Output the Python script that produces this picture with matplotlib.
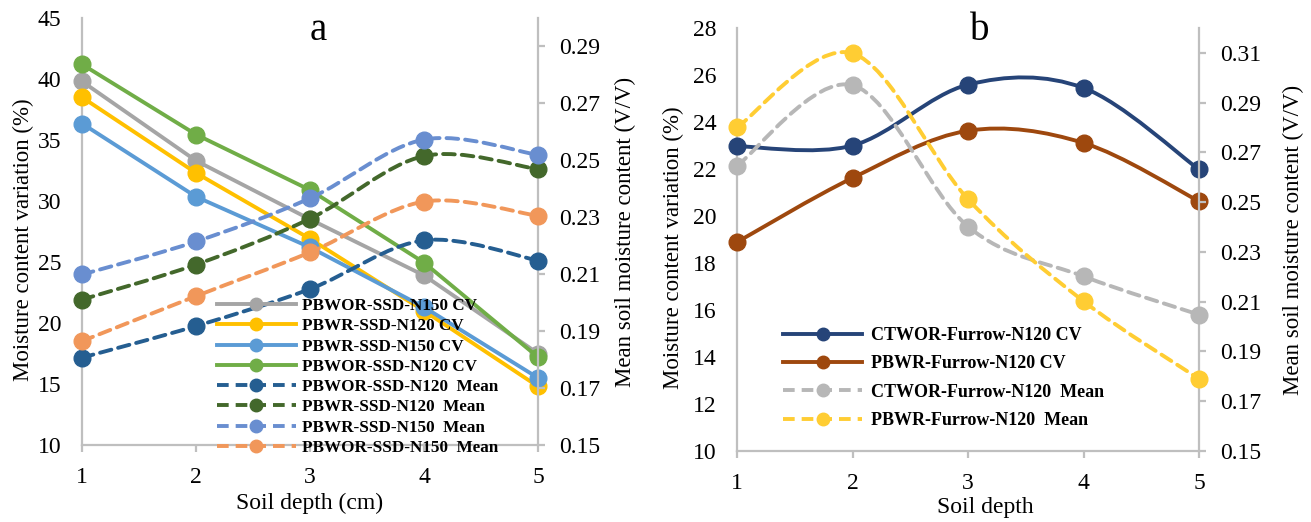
import matplotlib
matplotlib.use('Agg')
import matplotlib.pyplot as plt
from matplotlib.path import Path
from matplotlib.patches import PathPatch
from matplotlib.lines import Line2D

plt.rcParams['font.family'] = ['Liberation Serif', 'DejaVu Serif']

depth = [1, 2, 3, 4, 5]

# panel a: CV (left axis)
a_cv_names = ['PBWOR-SSD-N150 CV', 'PBWR-SSD-N120 CV', 'PBWR-SSD-N150 CV', 'PBWOR-SSD-N120 CV']
a_cv_vals = [
    [39.8, 33.3, 28.5, 23.9, 17.5],
    [38.5, 32.3, 26.9, 21.0, 14.8],
    [36.35, 30.35, 26.2, 21.3, 15.5],
    [41.2, 35.45, 30.9, 24.95, 17.2],
]
a_cv_colors = ['#A5A5A5', '#FFC000', '#5B9BD5', '#70AD47']

# panel a: mean (right axis)
a_mean_names = ['PBWOR-SSD-N120  Mean', 'PBWR-SSD-N120  Mean', 'PBWR-SSD-N150  Mean', 'PBWOR-SSD-N150  Mean']
a_mean_vals = [
    [0.1807, 0.1918, 0.2048, 0.2219, 0.2148],
    [0.2011, 0.2134, 0.2295, 0.2515, 0.2469],
    [0.2099, 0.2215, 0.2367, 0.2573, 0.2519],
    [0.1865, 0.2023, 0.2177, 0.2355, 0.2305],
]
a_mean_colors = ['#255E91', '#43682B', '#698ED0', '#F1975A']

# panel b
b_cv_names = ['CTWOR-Furrow-N120 CV', 'PBWR-Furrow-N120 CV']
b_cv_vals = [
    [22.97, 23.0, 25.59, 25.45, 21.98],
    [18.89, 21.62, 23.63, 23.11, 20.63],
]
b_cv_colors = ['#264478', '#9E480E']

b_mean_names = ['CTWOR-Furrow-N120  Mean', 'PBWR-Furrow-N120  Mean']
b_mean_vals = [
    [0.2647, 0.2970, 0.2402, 0.2202, 0.2048],
    [0.2801, 0.3098, 0.2512, 0.2102, 0.1790],
]
b_mean_colors = ['#B7B7B7', '#FFCD33']

SPINE = '#BFBFBF'
DASH = (0, (3.0, 1.8))
TICK_FS = 17
LABEL_FS = 16.5


def smooth_path(xs, ys):
    # excel-like smoothed line as cubic bezier segments
    n = len(xs)
    verts = [(xs[0], ys[0])]
    codes = [Path.MOVETO]
    for i in range(n - 1):
        i0 = max(i - 1, 0)
        i3 = min(i + 2, n - 1)
        c1 = (xs[i] + (xs[i + 1] - xs[i0]) / 6.0, ys[i] + (ys[i + 1] - ys[i0]) / 6.0)
        c2 = (xs[i + 1] - (xs[i3] - xs[i]) / 6.0, ys[i + 1] - (ys[i3] - ys[i]) / 6.0)
        verts += [c1, c2, (xs[i + 1], ys[i + 1])]
        codes += [Path.CURVE4] * 3
    return Path(verts, codes)


def draw_series(ax, ys, color, dashed, smooth, lw=2.8, ms=12):
    ls = DASH if dashed else '-'
    if smooth:
        ax.add_patch(PathPatch(smooth_path(depth, ys), facecolor='none', edgecolor=color,
                               lw=lw, linestyle=ls, capstyle='round', clip_on=False, zorder=3))
        ax.plot(depth, ys, ls='none', marker='o', ms=ms, color=color, clip_on=False, zorder=4)
    else:
        ax.plot(depth, ys, ls=ls, lw=lw, marker='o', ms=ms, color=color, clip_on=False, zorder=3)


def style_axes(ax, ax2, ylim, yticks, y2lim, y2ticks):
    for s in ['top', 'right']:
        ax.spines[s].set_visible(False)
    for s in ['left', 'bottom']:
        ax.spines[s].set_color(SPINE)
        ax.spines[s].set_linewidth(1.6)
    for s in ['top', 'left', 'bottom']:
        ax2.spines[s].set_visible(False)
    ax2.spines['right'].set_color(SPINE)
    ax2.spines['right'].set_linewidth(1.6)
    ax.set_xlim(1, 5)
    ax.set_xticks(depth)
    ax.set_ylim(*ylim)
    ax.set_yticks(yticks)
    ax2.set_ylim(*y2lim)
    ax2.set_yticks(y2ticks)
    ax2.set_yticklabels(['%.2f' % v for v in y2ticks])
    ax.tick_params(axis='x', length=5, width=1.6, color=SPINE, pad=11, labelsize=TICK_FS)
    ax.tick_params(axis='y', length=0, pad=15, labelsize=TICK_FS)
    ax2.tick_params(axis='y', length=5, width=1.6, color=SPINE, pad=10, labelsize=TICK_FS)


def handle(color, dashed, lw=2.8, ms=9):
    return Line2D([], [], color=color, lw=lw, ls=DASH if dashed else '-', marker='o', ms=ms)


fig = plt.figure(figsize=(13.11, 5.22), dpi=100)

# ---------------- panel a
ax = fig.add_axes([0.0626, 0.1475, 0.3478, 0.818])
ax2 = ax.twinx()
for vals, c in zip(a_cv_vals, a_cv_colors):
    draw_series(ax, vals, c, False, False)
for vals, c in zip(a_mean_vals, a_mean_colors):
    draw_series(ax2, vals, c, True, True)
style_axes(ax, ax2, (10, 45), range(10, 46, 5), (0.15, 0.30), [0.15, 0.17, 0.19, 0.21, 0.23, 0.25, 0.27, 0.29])
ax.set_ylabel('Moisture content variation (%)', fontsize=LABEL_FS)
ax.yaxis.set_label_coords(-0.105, 0.48)
ax2.set_ylabel('Mean soil moisture content (V/V)', fontsize=LABEL_FS, rotation=90)
ax2.yaxis.set_label_coords(1.168, 0.5)
ax.set_xlabel('Soil depth (cm)', fontsize=17)
ax.xaxis.set_label_coords(0.5, -0.112)
ax.text(0.518, 0.948, 'a', transform=ax.transAxes, fontsize=28, ha='center', va='baseline')
hs = [handle(c, False) for c in a_cv_colors] + [handle(c, True) for c in a_mean_colors]
ax2.legend(hs, a_cv_names + a_mean_names, loc='upper left', bbox_to_anchor=(217 / 1311, 1 - 298 / 522),
           bbox_transform=fig.transFigure, frameon=False, borderpad=0, borderaxespad=0,
           handlelength=4.6, handletextpad=0.4, labelspacing=0.25,
           prop={'family': 'Liberation Serif', 'weight': 'bold', 'size': 12.3})

# ---------------- panel b
bx = fig.add_axes([0.5622, 0.136, 0.3524, 0.8103])
bx2 = bx.twinx()
for vals, c in zip(b_cv_vals, b_cv_colors):
    draw_series(bx, vals, c, False, True)
for vals, c in zip(b_mean_vals, b_mean_colors):
    draw_series(bx2, vals, c, True, True)
style_axes(bx, bx2, (10, 28), range(10, 29, 2), (0.15, 0.32), [0.15, 0.17, 0.19, 0.21, 0.23, 0.25, 0.27, 0.29, 0.31])
bx.set_ylabel('Moisture content variation (%)', fontsize=LABEL_FS)
bx.yaxis.set_label_coords(-0.1147, 0.48)
bx2.set_ylabel('Mean soil moisture content (V/V)', fontsize=LABEL_FS, rotation=90)
bx2.yaxis.set_label_coords(1.181, 0.5)
bx.set_xlabel('Soil depth', fontsize=17)
bx.xaxis.set_label_coords(0.537, -0.108)
bx.text(0.526, 0.9716, 'b', transform=bx.transAxes, fontsize=28, ha='center', va='baseline')
hs = [handle(c, False) for c in b_cv_colors] + [handle(c, True) for c in b_mean_colors]
bx2.legend(hs, b_cv_names + b_mean_names, loc='upper left', bbox_to_anchor=(783 / 1311, 1 - 327 / 522),
           bbox_transform=fig.transFigure, frameon=False, borderpad=0, borderaxespad=0,
           handlelength=4.4, handletextpad=0.45, labelspacing=0.63,
           prop={'family': 'Liberation Serif', 'weight': 'bold', 'size': 13})

fig.savefig('out.png', dpi=100)
